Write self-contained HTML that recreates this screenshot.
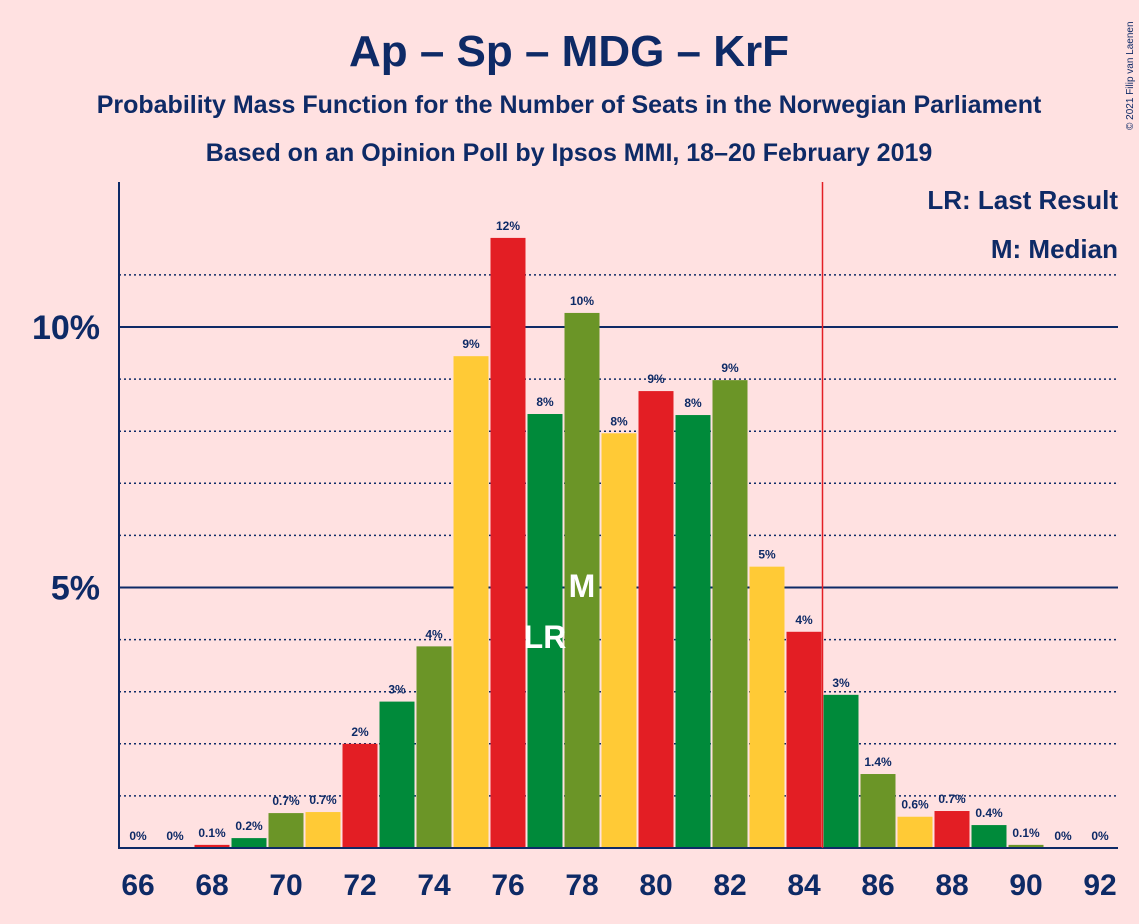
<!DOCTYPE html>
<html><head><meta charset="utf-8"><style>
body{margin:0;background:#FFE1E1;}
svg{display:block;font-family:"Liberation Sans",sans-serif;}
</style></head><body>
<svg id="c" width="1139" height="924" viewBox="0 0 1139 924">
<rect width="1139" height="924" fill="#FFE1E1"/>
<text x="569" y="66" text-anchor="middle" font-size="44" font-weight="bold" fill="#0E2A66">Ap – Sp – MDG – KrF</text>
<text x="569" y="113" text-anchor="middle" font-size="25" font-weight="bold" fill="#0E2A66">Probability Mass Function for the Number of Seats in the Norwegian Parliament</text>
<text x="569" y="161" text-anchor="middle" font-size="25" font-weight="bold" fill="#0E2A66">Based on an Opinion Poll by Ipsos MMI, 18–20 February 2019</text>
<text x="1133" y="130" font-size="10" fill="#0E2A66" transform="rotate(-90 1133 130)">© 2021 Filip van Laenen</text>
<text x="1118" y="209" text-anchor="end" font-size="26" font-weight="bold" fill="#0E2A66">LR: Last Result</text>
<text x="1118" y="258" text-anchor="end" font-size="26" font-weight="bold" fill="#0E2A66">M: Median</text>
<g id="grid"></g><g id="bars"></g><g id="labels"></g>
</svg>
<script>
const seats=[66,67,68,69,70,71,72,73,74,75,76,77,78,79,80,81,82,83,84,85,86,87,88,89,90,91,92];
const probs=[0,0,0.06,0.19,0.67,0.69,2.0,2.81,3.87,9.44,11.71,8.33,10.27,7.96,8.77,8.31,8.98,5.4,4.15,2.94,1.42,0.6,0.71,0.44,0.06,0,0];
const valueLabels=["0%","0%","0.1%","0.2%","0.7%","0.7%","2%","3%","4%","9%","12%","8%","10%","8%","9%","8%","9%","5%","4%","3%","1.4%","0.6%","0.7%","0.4%","0.1%","0%","0%"];
const xTicks=[66,68,70,72,74,76,78,80,82,84,86,88,90,92];
const yTicks=[5,10];
const lastResult=77, median=78, majority=84.5;
const NS="http://www.w3.org/2000/svg";
const x=s=>138+(s-66)*37, y=p=>848-p*52.1;
const colors=["#E31E24","#008A3A","#6B9527","#FFCA36"];
const svg=document.getElementById('c');
function mk(t,a,parent){const e=document.createElementNS(NS,t);for(const k in a)e.setAttribute(k,a[k]);(parent||svg).appendChild(e);return e;}
const grid=document.getElementById('grid'),bars=document.getElementById('bars'),labels=document.getElementById('labels');
for(let p=1;p<=11;p++){if(p%5==0)continue;const l=mk('line',{x1:119,x2:1118,y1:y(p),y2:y(p),stroke:'#0E2A66','stroke-width':1.5,'stroke-dasharray':'2,3'},grid);

}
yTicks.forEach(p=>{const l=mk('line',{x1:119,x2:1118,y1:y(p),y2:y(p),stroke:'#0E2A66','stroke-width':2},grid);


const t=mk('text',{x:100,y:y(p)+12,'text-anchor':'end','font-size':34,'font-weight':'bold',fill:'#0E2A66'},labels);t.textContent=p+'%';

});
seats.forEach((s,i)=>{const p=probs[i];
if(p>0){const r=mk('rect',{x:x(s)-17.5,y:y(p),width:35,height:848-y(p),fill:colors[((s-68)%4+4)%4]},bars);

}
const t=mk('text',{x:x(s),y:y(p)-8,'text-anchor':'middle','font-size':12,'font-weight':'bold',fill:'#0E2A66'},labels);t.textContent=valueLabels[i];

});
xTicks.forEach(s=>{const t=mk('text',{x:x(s),y:895,'text-anchor':'middle','font-size':30,'font-weight':'bold',fill:'#0E2A66'},labels);t.textContent=s;

});
const ax=mk('line',{x1:119,x2:119,y1:182,y2:849,stroke:'#0E2A66','stroke-width':2});


const bx=mk('line',{x1:118,x2:1118,y1:848,y2:848,stroke:'#0E2A66','stroke-width':2});


const ml=mk('line',{x1:x(majority),x2:x(majority),y1:182,y2:848,stroke:'#E31E24','stroke-width':1.5});


const lr=mk('text',{x:x(lastResult),y:648,'text-anchor':'middle','font-size':32,'font-weight':'bold',fill:'#FFFFFF'});lr.textContent='LR';


const md=mk('text',{x:x(median),y:597,'text-anchor':'middle','font-size':32,'font-weight':'bold',fill:'#FFFFFF'});md.textContent='M';


</script>
</body></html>
